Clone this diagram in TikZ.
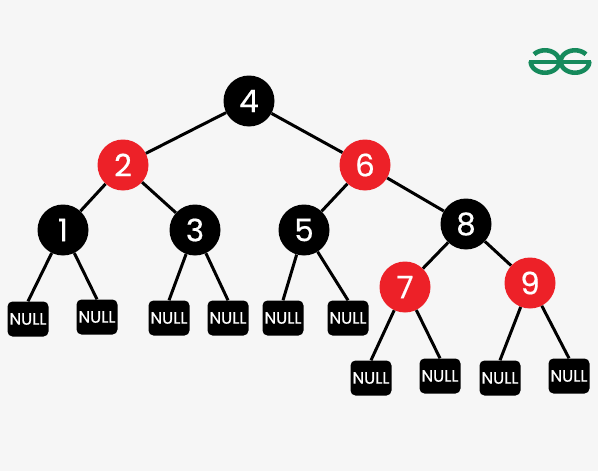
\documentclass[tikz,border=0pt]{standalone}
\usepackage{fontspec}
\setmainfont{Poppins}
\newfontfamily\heavyfont[FakeBold=0.5]{Poppins}
\definecolor{bgc}{HTML}{F6F6F6}
\definecolor{redn}{HTML}{ED2128}
\definecolor{gfg}{HTML}{168A5C}
\tikzset{
  treenode/.style={circle,minimum size=51pt,inner sep=0pt,text=white,font=\heavyfont\fontsize{31}{31}\selectfont},
  blacknode/.style={treenode,fill=black},
  rednode/.style={treenode,fill=redn},
  nullnode/.style={rectangle,rounded corners=5pt,fill=black,text=white,minimum width=41pt,minimum height=35pt,inner sep=0pt,font=\heavyfont\fontsize{16.5}{16.5}\selectfont},
  edge/.style={line width=3pt,black},
  logo/.style={line width=4.6pt,gfg}
}
\begin{document}
\begin{tikzpicture}[x=1pt,y=-1pt]
\fill[bgc] (0,0) rectangle (598,471);
\useasboundingbox (0,0) rectangle (598,471);
\node[blacknode] (n4) at (249,101) {4};
\node[rednode] (n2) at (123,165) {2};
\node[rednode] (n6) at (365,165) {6};
\node[blacknode] (n1) at (63,230) {1};
\node[blacknode] (n3) at (195,230) {3};
\node[blacknode] (n5) at (304,230) {5};
\node[blacknode] (n8) at (466,224) {8};
\node[rednode] (n7) at (405,287) {7};
\node[rednode] (n9) at (530,283) {9};
\node[nullnode] (a) at (28,319) {NULL};
\node[nullnode] (b) at (97,317) {NULL};
\node[nullnode] (c) at (169,318) {NULL};
\node[nullnode] (d) at (228,318) {NULL};
\node[nullnode] (e) at (283,318) {NULL};
\node[nullnode] (f) at (348,318) {NULL};
\node[nullnode] (g) at (371,378) {NULL};
\node[nullnode] (h) at (440,376) {NULL};
\node[nullnode] (i) at (500,378) {NULL};
\node[nullnode] (j) at (569,376) {NULL};
\foreach \p/\q in {n4/n2,n4/n6,n2/n1,n2/n3,n6/n5,n6/n8,n8/n7,n8/n9}
  \draw[edge] (\p) -- (\q);
\foreach \p/\q in {n1/a,n1/b,n3/c,n3/d,n5/e,n5/f,n7/g,n7/h,n9/i,n9/j}
  \draw[edge] (\p) -- (\q.north);
% logo
\draw[logo] (529,62) -- (591,62);
\draw[logo,smooth] plot[domain=-140:180,samples=40] ({545+14.3*cos(\x)},{61.5+11.2*sin(\x)});
\draw[logo,smooth] plot[domain=-360:-40,samples=40] ({575+14.3*cos(\x)},{61.5+11.2*sin(\x)});
\end{tikzpicture}
\end{document}
